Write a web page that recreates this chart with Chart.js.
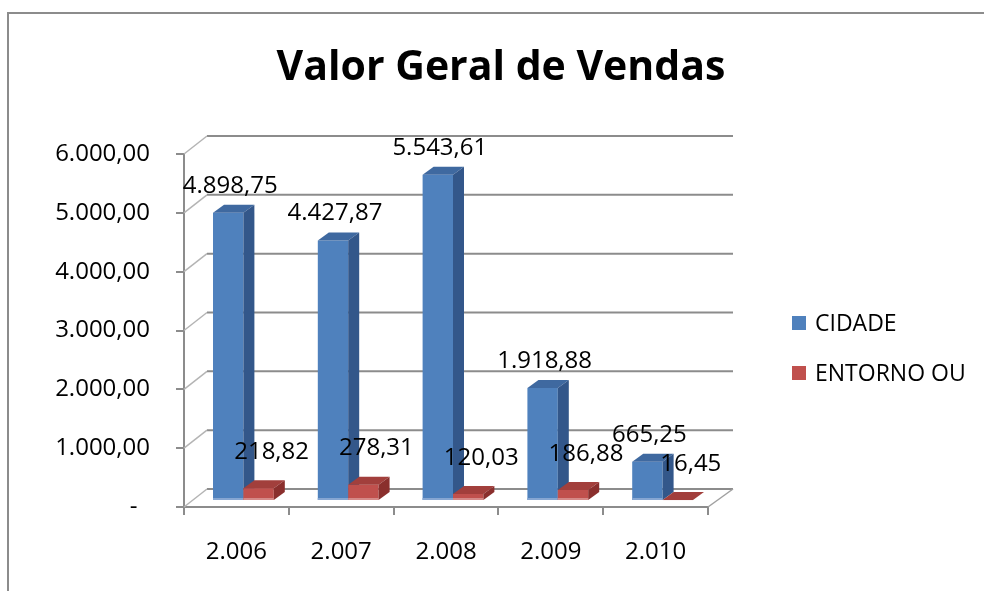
<!DOCTYPE html>
<html>
<head>
<meta charset="utf-8">
<script src="https://cdn.jsdelivr.net/npm/chart.js@4.4.0/dist/chart.umd.min.js"></script>
<style>
  html, body { margin: 0; padding: 0; background: #fff; }
  #wrap { position: relative; width: 984px; height: 591px; }
</style>
</head>
<body>
<div id="wrap"><canvas id="chart" width="984" height="591"></canvas></div>
<script>
// data
const years = ['2.006', '2.007', '2.008', '2.009', '2.010'];
const cidade = [4898.75, 4427.87, 5543.61, 1918.88, 665.25];
const entorno = [218.82, 278.31, 120.03, 186.88, 16.45];
const seriesNames = ['CIDADE', 'ENTORNO OU'];
const yTickValues = [0, 1000, 2000, 3000, 4000, 5000, 6000];

const FONT = '"Open Sans", "DejaVu Sans", sans-serif';
const GRID = '#8c8c8c';

// fake 3D: where the bar fronts sit, how deep bars are, how deep the wall is
const FRONT = { x: 7, y: -6 };
const BAR_DEPTH = { x: 11, y: -8 };
const WALL = { x: 23, y: -18 };

const faces = [
  { front: '#4F81BD', top: '#3F69A0', side: '#33578A', foot: '#86A6D2' },
  { front: '#C0504D', top: '#A23F3C', side: '#8A2F2D', foot: '#D58A88' },
];

function fmtBR(n) {
  const parts = Number(n).toFixed(2).split('.');
  return parts[0].replace(/\B(?=(\d{3})+(?!\d))/g, '.') + ',' + parts[1];
}

function poly(ctx, pts, color) {
  ctx.beginPath();
  ctx.moveTo(pts[0][0], pts[0][1]);
  for (let i = 1; i < pts.length; i += 1) ctx.lineTo(pts[i][0], pts[i][1]);
  ctx.closePath();
  ctx.fillStyle = color;
  ctx.fill();
}

function drawFaces(ctx, meta, f) {
  meta.data.forEach((bar) => {
    const p = bar.getProps(['x', 'y', 'base', 'width'], true);
    const l = p.x - p.width / 2;
    const r = p.x + p.width / 2;
    poly(ctx, [[l, p.y], [l + BAR_DEPTH.x, p.y + BAR_DEPTH.y], [r + BAR_DEPTH.x, p.y + BAR_DEPTH.y], [r, p.y]], f.top);
    poly(ctx, [[r, p.y], [r + BAR_DEPTH.x, p.y + BAR_DEPTH.y], [r + BAR_DEPTH.x, p.base + BAR_DEPTH.y], [r, p.base]], f.side);
    // light reflection along the foot of the front face
    const h = Math.min(2, p.base - p.y);
    ctx.fillStyle = f.foot;
    ctx.fillRect(l, p.base - h, r - l, h);
  });
}

const depthPlugin = {
  id: 'depth3d',
  beforeDraw(chart) {
    const { ctx } = chart;
    ctx.save();
    ctx.fillStyle = '#fff';
    ctx.fillRect(0, 0, chart.width, chart.height);
    ctx.strokeStyle = '#8c8c8c';
    ctx.lineWidth = 2;
    ctx.beginPath();
    ctx.moveTo(8, chart.height + 2);
    ctx.lineTo(8, 13);
    ctx.lineTo(chart.width + 2, 13);
    ctx.stroke();
    ctx.restore();
  },
  // walls first, then the bars left-to-right so each series covers the previous one's side
  beforeDatasetsDraw(chart) {
    const { ctx, chartArea: a, scales } = chart;
    const y = scales.y;
    ctx.save();
    yTickValues.forEach((v) => {
      const py = y.getPixelForValue(v);
      ctx.strokeStyle = GRID;
      ctx.lineWidth = 2;
      ctx.beginPath();
      ctx.moveTo(a.left + WALL.x, py + WALL.y);
      ctx.lineTo(a.right + WALL.x + 2, py + WALL.y);
      ctx.stroke();
      ctx.strokeStyle = '#b4b4b4';
      ctx.lineWidth = 1.5;
      ctx.beginPath();
      ctx.moveTo(a.left, py);
      ctx.lineTo(a.left + WALL.x, py + WALL.y);
      ctx.stroke();
    });
    ctx.strokeStyle = '#a0a0a0';
    ctx.lineWidth = 1.5;
    ctx.beginPath();
    ctx.moveTo(a.right, a.bottom);
    ctx.lineTo(a.right + WALL.x + 2, a.bottom + WALL.y);
    ctx.stroke();
    ctx.restore();

    ctx.save();
    ctx.translate(FRONT.x, FRONT.y);
    chart.data.datasets.forEach((ds, di) => {
      const meta = chart.getDatasetMeta(di);
      meta.controller.draw();
      drawFaces(ctx, meta, faces[di]);
    });
    ctx.restore();

    // value labels
    ctx.save();
    ctx.font = `24px ${FONT}`;
    ctx.fillStyle = '#000';
    ctx.textAlign = 'center';
    ctx.textBaseline = 'middle';
    chart.data.datasets.forEach((ds, di) => {
      const meta = chart.getDatasetMeta(di);
      const dx = di === 0 ? 2 : 13;
      const dy = di === 0 ? -27 : -36;
      meta.data.forEach((bar, i) => {
        const p = bar.getProps(['x', 'y'], true);
        ctx.fillText(fmtBR(ds.data[i]), p.x + FRONT.x + dx, p.y + FRONT.y + dy);
      });
    });
    ctx.restore();
    return false;
  },
  afterDraw(chart) {
    const { ctx, chartArea: a } = chart;
    ctx.save();
    ctx.font = `bold 41px ${FONT}`;
    ctx.fillStyle = '#000';
    ctx.textAlign = 'center';
    ctx.textBaseline = 'alphabetic';
    ctx.fillText('Valor Geral de Vendas', 501, 80);
    ctx.font = `23px ${FONT}`;
    ctx.textAlign = 'left';
    ctx.textBaseline = 'middle';
    chart.data.datasets.forEach((ds, i) => {
      const cy = 323 + i * 50;
      const bx = a.right + 84;
      ctx.fillStyle = ds.backgroundColor;
      ctx.fillRect(bx, cy - 7, 14, 14);
      ctx.fillStyle = '#000';
      ctx.fillText(ds.label, bx + 23, cy + 1);
    });
    ctx.restore();
  },
};

new Chart(document.getElementById('chart'), {
  type: 'bar',
  data: {
    labels: years,
    datasets: [
      { label: seriesNames[0], data: cidade, backgroundColor: faces[0].front },
      { label: seriesNames[1], data: entorno, backgroundColor: faces[1].front },
    ],
  },
  options: {
    responsive: false,
    animation: false,
    events: [],
    layout: { padding: { left: 0, top: 154, right: 276, bottom: 0 } },
    datasets: { bar: { categoryPercentage: 0.58, barPercentage: 1.0, borderWidth: 0 } },
    plugins: { legend: { display: false }, title: { display: false }, tooltip: { enabled: false } },
    scales: {
      x: {
        offset: true,
        afterFit: (s) => { s.height = 84; },
        grid: { display: true, drawOnChartArea: false, tickLength: 8, color: GRID, lineWidth: 2, offset: true },
        border: { display: true, color: GRID, width: 2 },
        ticks: { color: '#000', font: { family: FONT, size: 24 }, padding: 23 },
      },
      y: {
        min: 0,
        max: 6000,
        afterFit: (s) => { s.width = 184; },
        afterBuildTicks: (s) => { s.ticks = yTickValues.map((v) => ({ value: v })); },
        grid: { display: true, drawOnChartArea: false, tickLength: 8, color: GRID, lineWidth: 2 },
        border: { display: true, color: GRID, width: 2 },
        ticks: {
          color: '#000',
          font: { family: FONT, size: 24 },
          padding: 26,
          callback: (v) => (v === 0 ? '-  ' : fmtBR(v)),
        },
      },
    },
  },
  plugins: [depthPlugin],
});
</script>
</body>
</html>
